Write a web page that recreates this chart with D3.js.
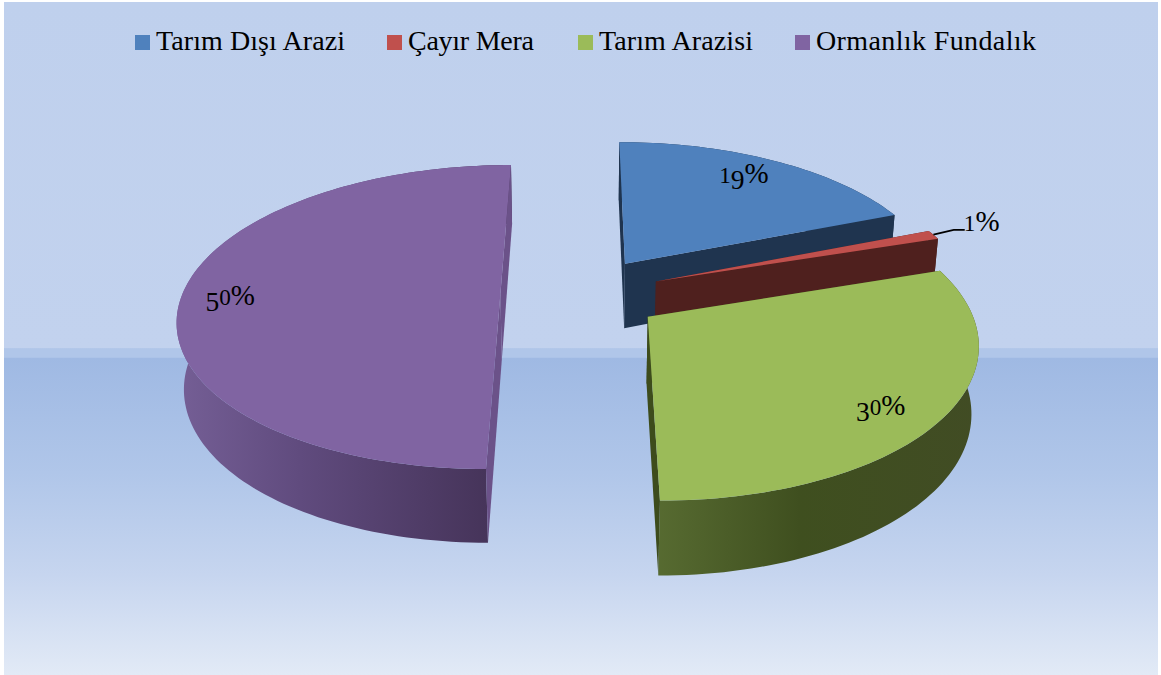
<!DOCTYPE html>
<html>
<head>
<meta charset="utf-8">
<script src="https://cdn.jsdelivr.net/npm/d3@7"></script>
<style>
  html, body { margin: 0; padding: 0; background: #fff; }
  svg { display: block; }
  text { font-family: "Liberation Serif", serif; fill: #000; }
</style>
</head>
<body>
<div id="chart"></div>
<script>
const categories = ['Tarım Dışı Arazi', 'Çayır Mera', 'Tarım Arazisi', 'Ormanlık Fundalık'];
const values = [19, 1, 30, 50];
const percentLabels = ['19%', '1%', '30%', '50%'];

const topColors = ['#4F81BD', '#C0504D', '#9BBB59', '#8064A2'];
const cutColors = ['#1F344F', '#4F201E', '#3D4C1C', '#6B5289'];

const width = 1161, height = 675;

// camera for the tilted disc, fitted to the reference
const VANISH = { x: 581, y: -687 };
const RADIUS_PX = 318, DEPTH_PX = 981, THICK_PX = 84.7;
const TILT = 0.1514, THICK_W = 0.018;
const EXPLODE = 0.2535;

function project(X, Y, Z) {
    const w = 1 + TILT * Y + THICK_W * Z;
    return [VANISH.x + RADIUS_PX * X / w, VANISH.y + (DEPTH_PX + THICK_PX * Z) / w];
}

const svg = d3.select('#chart').append('svg')
    .attr('width', width).attr('height', height)
    .attr('viewBox', `0 0 ${width} ${height}`);
const defs = svg.append('defs');

// Background
const bg = defs.append('linearGradient').attr('id', 'bg-grad')
    .attr('x1', 0).attr('y1', 0).attr('x2', 0).attr('y2', 1);
[[0, '#BFD0ED'], [0.514, '#C2D2EE'], [0.515, '#B0C6E9'], [0.528, '#B0C6E9'], [0.529, '#9FB9E3'],
 [0.7, '#B0C6E9'], [0.85, '#C6D5EF'], [1, '#E2EAF6']].forEach(([o, c]) => {
    bg.append('stop').attr('offset', o).attr('stop-color', c);
});
svg.append('rect').attr('x', 4).attr('y', 2).attr('width', 1154).attr('height', 673)
    .attr('fill', 'url(#bg-grad)');

// Gradients for the outer walls
function wallGradient(id, stops) {
    const g = defs.append('linearGradient').attr('id', id)
        .attr('gradientUnits', 'userSpaceOnUse')
        .attr('x1', 0).attr('y1', 0).attr('x2', width).attr('y2', 0);
    stops.forEach(([x, c]) => g.append('stop').attr('offset', x / width).attr('stop-color', c));
}
wallGradient('wall-2', [[656, '#576B31'], [800, '#3F4F1F'], [980, '#414C24']]);
wallGradient('wall-3', [[175, '#755F96'], [300, '#604B7E'], [487, '#46345A']]);
const wallFills = [cutColors[0], cutColors[1], 'url(#wall-2)', 'url(#wall-3)'];

const slices = d3.pie().sort(null).value((d) => d)(values);
const line = d3.line();

function offsetOf(s) {
    const mid = (s.startAngle + s.endAngle) / 2;
    return [EXPLODE * Math.sin(mid), EXPLODE * Math.cos(mid)];
}
function discPoint(s, angle, r, z) {
    const [ox, oy] = offsetOf(s);
    return project(ox + r * Math.sin(angle), oy + r * Math.cos(angle), z);
}
function rim(s, z) {
    const n = Math.max(4, Math.round((s.endAngle - s.startAngle) * 40));
    return d3.range(n + 1).map((i) => discPoint(s, s.startAngle + (s.endAngle - s.startAngle) * i / n, 1, z));
}

// Purple sits apart, then back to front on the right
[3, 0, 1, 2].forEach((i) => {
    const s = slices[i];
    const g = svg.append('g');
    const apexTop = discPoint(s, 0, 0, 0), apexBot = discPoint(s, 0, 0, 1);
    const rimTop = rim(s, 0), rimBot = rim(s, 1);

    g.append('path').attr('d', line(rimTop.concat(rimBot.slice().reverse())) + 'Z').attr('fill', wallFills[i]);
    [[rimTop[0], rimBot[0]], [rimTop[rimTop.length - 1], rimBot[rimBot.length - 1]]].forEach(([a, b]) => {
        g.append('path').attr('d', line([apexTop, a, b, apexBot]) + 'Z').attr('fill', cutColors[i]);
    });
    g.append('path').attr('d', line([apexTop].concat(rimTop)) + 'Z').attr('fill', topColors[i]);
});

// Old-style figures: no installed serif has them, so size and drop each digit
function addOldStyle(text, label, size) {
    let shift = 0;
    label.split('').forEach((ch) => {
        const small = '012'.includes(ch);
        const drop = '3459'.includes(ch) ? size * 0.2 : 0;
        text.append('tspan')
            .attr('font-size', small ? size * 0.8 : ch === '%' ? size : size * 0.95)
            .attr('dy', drop - shift)
            .text(ch);
        shift = drop;
    });
}

// Percent labels, nudged to where the reference puts them
const labelNudge = [[-9, -1], [-4, -3], [-12, 7], [-3, 3]];
slices.forEach((s, i) => {
    const mid = (s.startAngle + s.endAngle) / 2;
    const outside = values[i] < 5;
    const [lx, ly] = discPoint(s, mid, outside ? 1.2 : 0.84, 0);
    const x = lx + labelNudge[i][0], y = ly + labelNudge[i][1];
    const t = svg.append('text').attr('x', x).attr('y', y + 8).attr('text-anchor', 'middle');
    addOldStyle(t, percentLabels[i], 29);
    if (outside) {
        const [rx, ry] = discPoint(s, mid, 1, 0);
        svg.append('path').attr('d', line([[rx, ry], [x - 28, y + 7], [x - 17, y + 7]]))
            .attr('fill', 'none').attr('stroke', '#000').attr('stroke-width', 1.8);
    }
});

// Legend
const legendX = [135, 387, 578, 795];
const legendTextWidth = [189, 126, 154, 220];
const legend = svg.append('g');
categories.forEach((c, i) => {
    legend.append('rect').attr('x', legendX[i]).attr('y', 35).attr('width', 15).attr('height', 15)
        .attr('fill', topColors[i]);
    legend.append('text').attr('x', legendX[i] + 21).attr('y', 50).attr('font-size', 28)
        .attr('textLength', legendTextWidth[i]).text(c);
});
</script>
</body>
</html>
